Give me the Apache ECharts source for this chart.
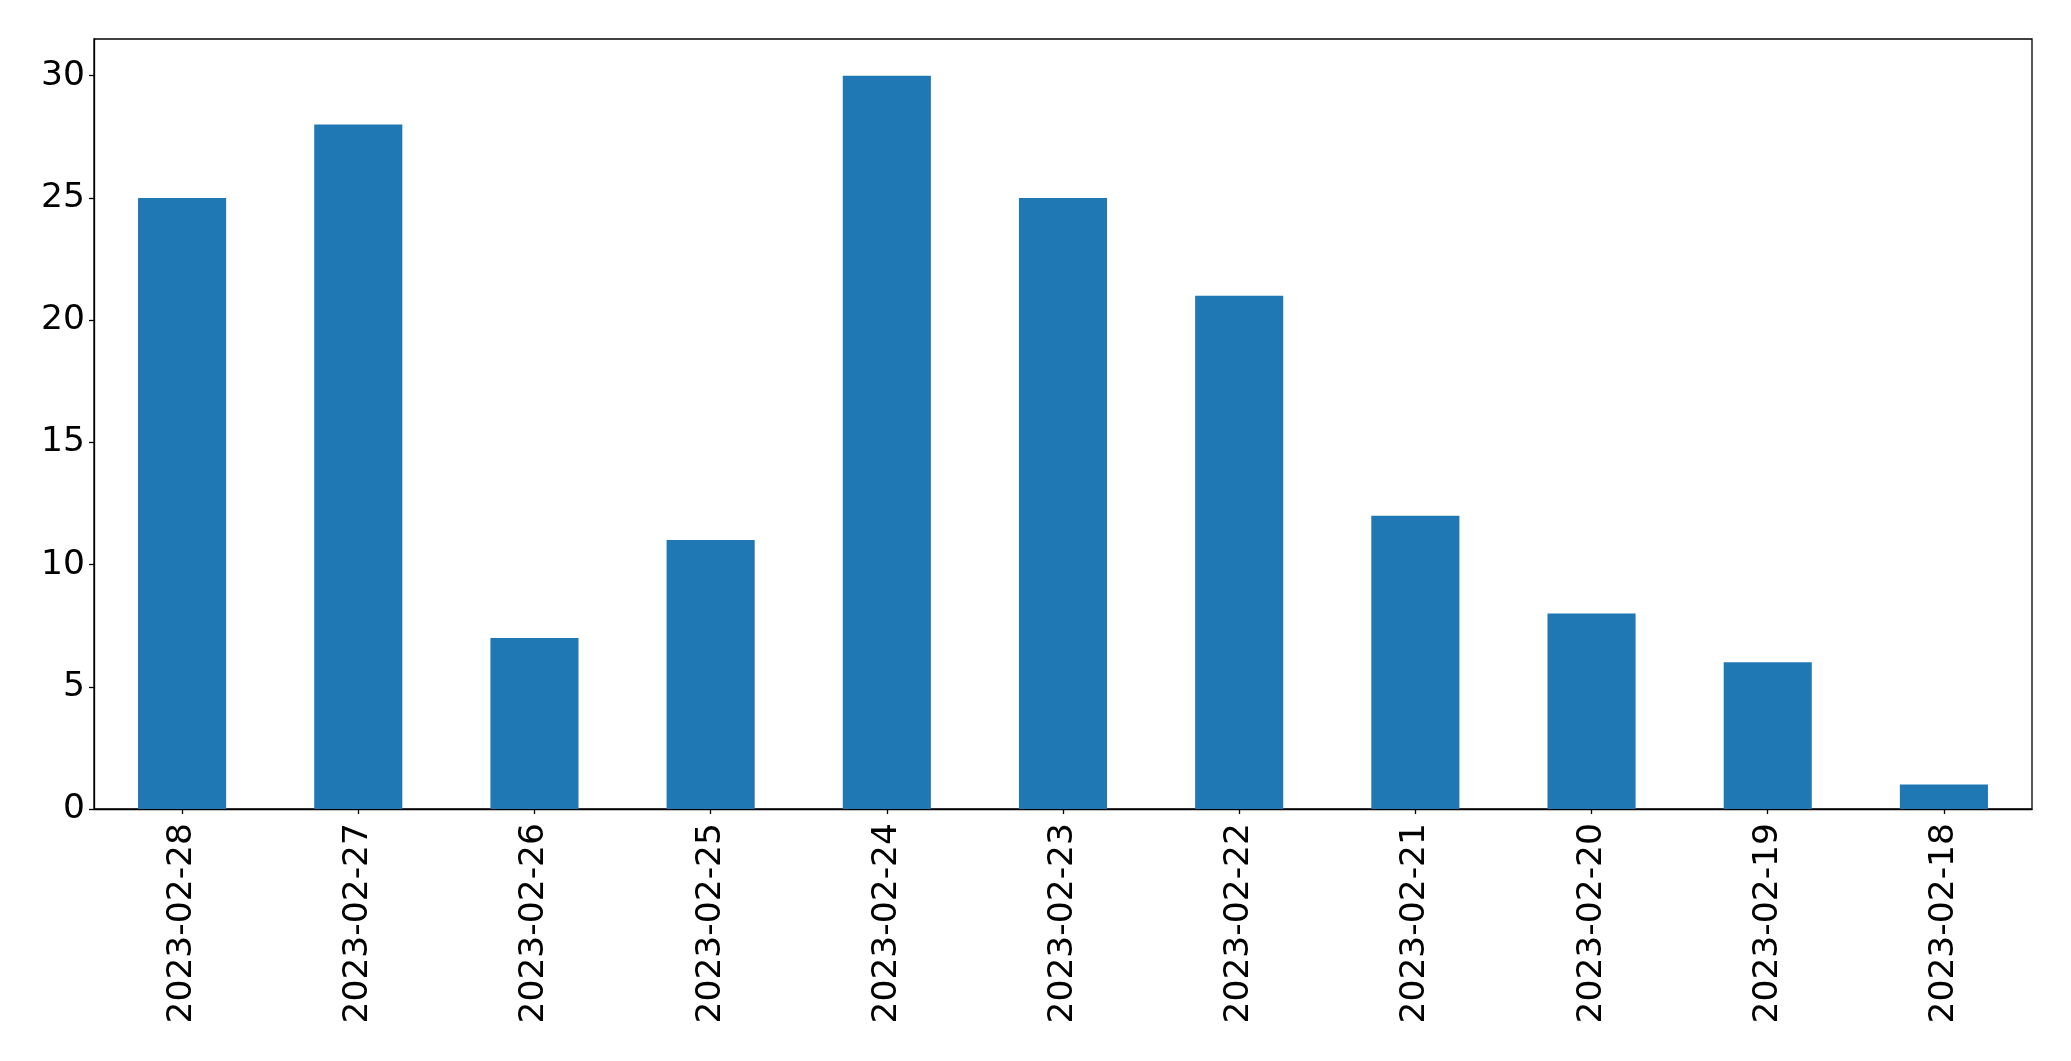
<!DOCTYPE html>
<html>
<head>
<meta charset="utf-8">
<script src="https://cdn.jsdelivr.net/npm/echarts@6/dist/echarts.min.js"></script>
<style>
html,body{margin:0;padding:0;background:#fff;}
#chart{width:2071px;height:1061px;}
</style>
</head>
<body>
<div id="chart"></div>
<script>
const categories = ["2023-02-28","2023-02-27","2023-02-26","2023-02-25","2023-02-24","2023-02-23","2023-02-22","2023-02-21","2023-02-20","2023-02-19","2023-02-18"];
const values = [25, 28, 7, 11, 30, 25, 21, 12, 8, 6, 1];
const yTicks = [0, 5, 10, 15, 20, 25, 30];

const chart = echarts.init(document.getElementById('chart'), null, {renderer: 'canvas'});
const font = 'DejaVu Sans';
chart.setOption({
  animation: false,
  backgroundColor: '#ffffff',
  grid: {left: 94, right: 39, top: 39, bottom: 252, show: true, borderColor: '#000', borderWidth: 1.3, backgroundColor: 'transparent'},
  xAxis: {
    type: 'category',
    data: categories,
    boundaryGap: true,
    axisLine: {show: true, lineStyle: {color: '#000', width: 1.3}},
    axisTick: {show: true, alignWithLabel: true, length: 5, lineStyle: {color: '#000', width: 1.3}},
    axisLabel: {rotate: 90, margin: 14, fontFamily: font, fontSize: 34.5, color: '#000', interval: 0},
    splitLine: {show: false}
  },
  yAxis: {
    type: 'value',
    min: 0,
    max: 31.5,
    interval: 5,
    axisLine: {show: true, lineStyle: {color: '#000', width: 1.3}},
    axisTick: {show: true, length: 5, lineStyle: {color: '#000', width: 1.3}, customValues: yTicks},
    axisLabel: {margin: 9, fontFamily: font, fontSize: 34.5, color: '#000', customValues: yTicks, padding: [8, 0, 0, 0]},
    splitLine: {show: false}
  },
  series: [{
    type: 'bar',
    data: values,
    barWidth: '50%',
    itemStyle: {color: '#1f77b4'}
  }]
});
</script>
</body>
</html>
